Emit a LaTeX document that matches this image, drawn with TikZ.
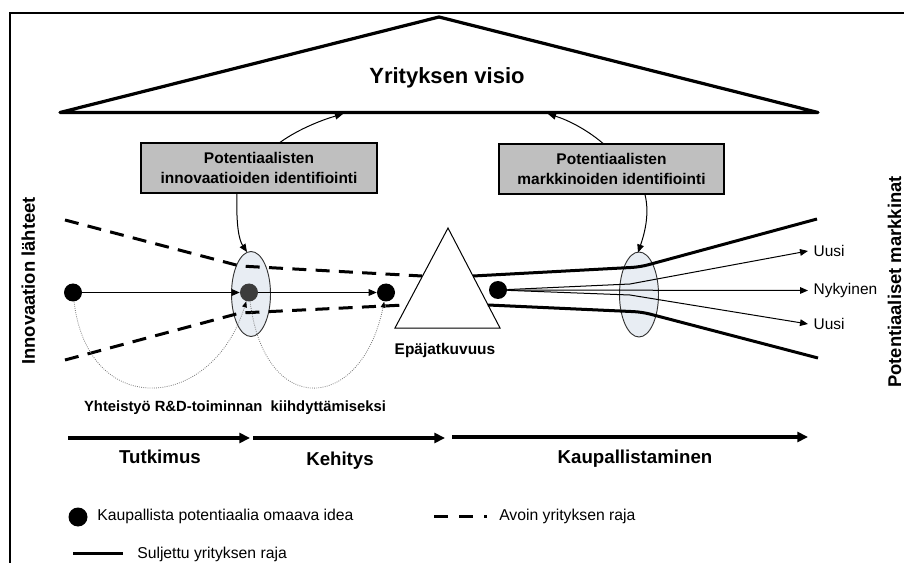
\documentclass[tikz,border=0pt]{standalone}
\usepackage{fontspec}
\setmainfont{Liberation Sans}
\usetikzlibrary{shapes.geometric,arrows.meta,calc}

\definecolor{boxgray}{RGB}{191,191,191}
\definecolor{lensfill}{RGB}{232,237,243}
\definecolor{dotgray}{RGB}{60,60,60}

\begin{document}
\begin{tikzpicture}[x=0.75pt,y=-0.75pt,
  frameline/.style={line width=1.6pt},
  visionshape/.style={line width=2.4pt, line join=round},
  idbox/.style={draw, line width=0.9pt, fill=boxgray, minimum width=177pt,
    minimum height=37.5pt, align=center, inner sep=0pt,
    font=\bfseries\fontsize{11.6}{14.3}\selectfont},
  idea/.style={circle, fill=black, minimum size=13.5pt, inner sep=0pt},
  lens/.style={ellipse, draw=black!80, fill=lensfill, line width=0.7pt,
    minimum width=29.25pt, minimum height=63.75pt, inner sep=0pt},
  flow/.style={line width=0.75pt, -{Triangle[length=6pt,width=5pt]}},
  openb/.style={line width=2.25pt, dash pattern=on 10.5pt off 7pt},
  closedb/.style={line width=2.25pt, rounded corners=6pt},
  collab/.style={black!55, line width=0.6pt, densely dotted,
    -{Triangle[length=4.5pt,width=3.5pt,black]}},
  stagearrow/.style={line width=2.4pt, -{Triangle[length=8pt,width=7.5pt]}},
  bigbold/.style={font=\bfseries\fontsize{16.5}{19}\selectfont, inner sep=0pt},
  stagelbl/.style={font=\bfseries\fontsize{14}{17}\selectfont, inner sep=0pt, anchor=base},
  sidelbl/.style={font=\bfseries\fontsize{13.8}{16}\selectfont, inner sep=0pt, rotate=90, anchor=base},
  smallbold/.style={font=\bfseries\fontsize{11.1}{13}\selectfont, inner sep=0pt, anchor=base},
  marketlbl/.style={font=\fontsize{11.6}{14}\selectfont, inner xsep=4pt, inner ysep=0pt, anchor=base west},
  legendlbl/.style={font=\fontsize{11.8}{14}\selectfont, inner sep=0pt, anchor=base west}
]
\useasboundingbox (0,0) rectangle (904,563);

% outer frame (top and left edges)
\coordinate (fB) at (10,575);
\coordinate (fC) at (10,13);
\coordinate (fR) at (915,13);
\draw[frameline] (fB) -- (fC) -- (fR);

% company vision
\coordinate (vL) at (60,112.5);
\coordinate (vT) at (439,17);
\coordinate (vR) at (818,112.5);
\draw[visionshape] (vL) -- (vT) -- (vR) -- cycle;
\node[bigbold, anchor=base] (vision) at (447,84) {Yrityksen visio};

% identification boxes
\node[idbox] (box1) at (259,168) {Potentiaalisten\\innovaatioiden identifiointi};
\node[idbox, minimum width=168.75pt] (box2) at (611.5,169) {Potentiaalisten\\markkinoiden identifiointi};

\coordinate (vA) at (343,114);
\coordinate (vB) at (548,114);
\draw[flow] ($(box1.north)+(21,0)$) .. controls (300,128) and (325,119) .. (vA);
\draw[flow] ($(box2.north)+(-8.5,0)$) .. controls (585,128) and (565,119) .. (vB);

% filters (lenses)
\node[lens] (lens1) at (251,294) {};
\node[lens] (lens2) at (639,294.5) {};

\draw[flow] ($(box1.south)+(-22,0)$) .. controls (236,225) and (239,240) .. ($(lens1.north)+(-4,1)$);
\draw[flow] ($(box2.south)+(33.5,0)$) .. controls (650,215) and (644,235) .. ($(lens2.north)+(-1,1)$);

% open boundary (dashed)
\coordinate (oa1) at (65,220);
\coordinate (oa2) at (240,266);
\coordinate (oa3) at (422,276);
\coordinate (ob1) at (65,360);
\coordinate (ob2) at (240,313);
\coordinate (ob3) at (405,305);
\draw[openb] (oa1) -- (oa2) -- (oa3);
\draw[openb] (ob1) -- (ob2) -- (ob3);

% discontinuity
\coordinate (e1) at (448,228);
\coordinate (e2) at (395,328);
\coordinate (e3) at (500,328);
\draw[line width=0.75pt, fill=white] (e1) -- (e2) -- (e3) -- cycle;
\node[smallbold, font=\bfseries\fontsize{11.6}{13}\selectfont] (disc) at (445,354.5) {Epäjatkuvuus};

% closed boundary (solid)
\coordinate (ca1) at (473,276);
\coordinate (ca2) at (640,267);
\coordinate (ca3) at (817,219);
\coordinate (cb1) at (488,305);
\coordinate (cb2) at (642,312);
\coordinate (cb3) at (818,358);
\draw[closedb] (ca1) -- (ca2) -- (ca3);
\draw[closedb] (cb1) -- (cb2) -- (cb3);

% ideas
\node[idea] (d1) at (73,292.5) {};
\node[idea, fill=dotgray] (d2) at (249,292.5) {};
\node[idea] (d3) at (386,292.5) {};
\node[idea] (d4) at (498,290) {};

\draw[flow] (d1) -- (d2);
\draw[flow] (d2) -- (d3);

% collaboration loops
\draw[collab] (d1) .. controls (88,420) and (212,412) .. (d2);
\draw[collab] (d2) .. controls (265,420) and (362,412) .. (d3);
\node[smallbold] (collabtxt) at (235,411) {Yhteistyö R\&D-toiminnan\ \ kiihdyttämiseksi};

% markets
\node[marketlbl] (u1) at (808,256.5) {Uusi};
\node[marketlbl] (nyk) at (808,294.5) {Nykyinen};
\node[marketlbl] (u2) at (808,329.5) {Uusi};
\coordinate (m1) at (630,284);
\coordinate (m2) at (630,295);
\draw[flow] (d4) -- (m1) -- (u1.west);
\draw[flow] (d4) -- (nyk.west);
\draw[flow] (d4) -- (m2) -- (u2.west);

% side labels
\node[sidelbl] (src) at (35,281) {Innovaation lähteet};
\node[sidelbl] (mkt) at (901,282) {Potentiaaliset markkinat};

% stages
\coordinate (s0) at (68,438);
\coordinate (s1) at (250,438);
\coordinate (s2) at (253,438);
\coordinate (s3) at (445,438);
\coordinate (s4) at (452,437);
\coordinate (s5) at (808,437);
\draw[stagearrow] (s0) -- (s1);
\draw[stagearrow] (s2) -- (s3);
\draw[stagearrow] (s4) -- (s5);
\node[stagelbl] (st1) at (160,463) {Tutkimus};
\node[stagelbl] (st2) at (340,465) {Kehitys};
\node[stagelbl] (st3) at (635,463) {Kaupallistaminen};

% legend
\node[idea, minimum size=14.25pt] (ld) at (78,517) {};
\node[legendlbl] (lt1) at (97,520) {Kaupallista potentiaalia omaava idea};
\coordinate (lo1) at (434,516);
\coordinate (lo2) at (487,516);
\draw[line width=2.25pt, dash pattern=on 10.5pt off 8.25pt] (lo1) -- (lo2);
\node[legendlbl] (lt2) at (499,520) {Avoin yrityksen raja};
\coordinate (lc1) at (73,553);
\coordinate (lc2) at (123,553);
\draw[line width=2.25pt] (lc1) -- (lc2);
\node[legendlbl] (lt3) at (137,558) {Suljettu yrityksen raja};
\end{tikzpicture}
\end{document}
